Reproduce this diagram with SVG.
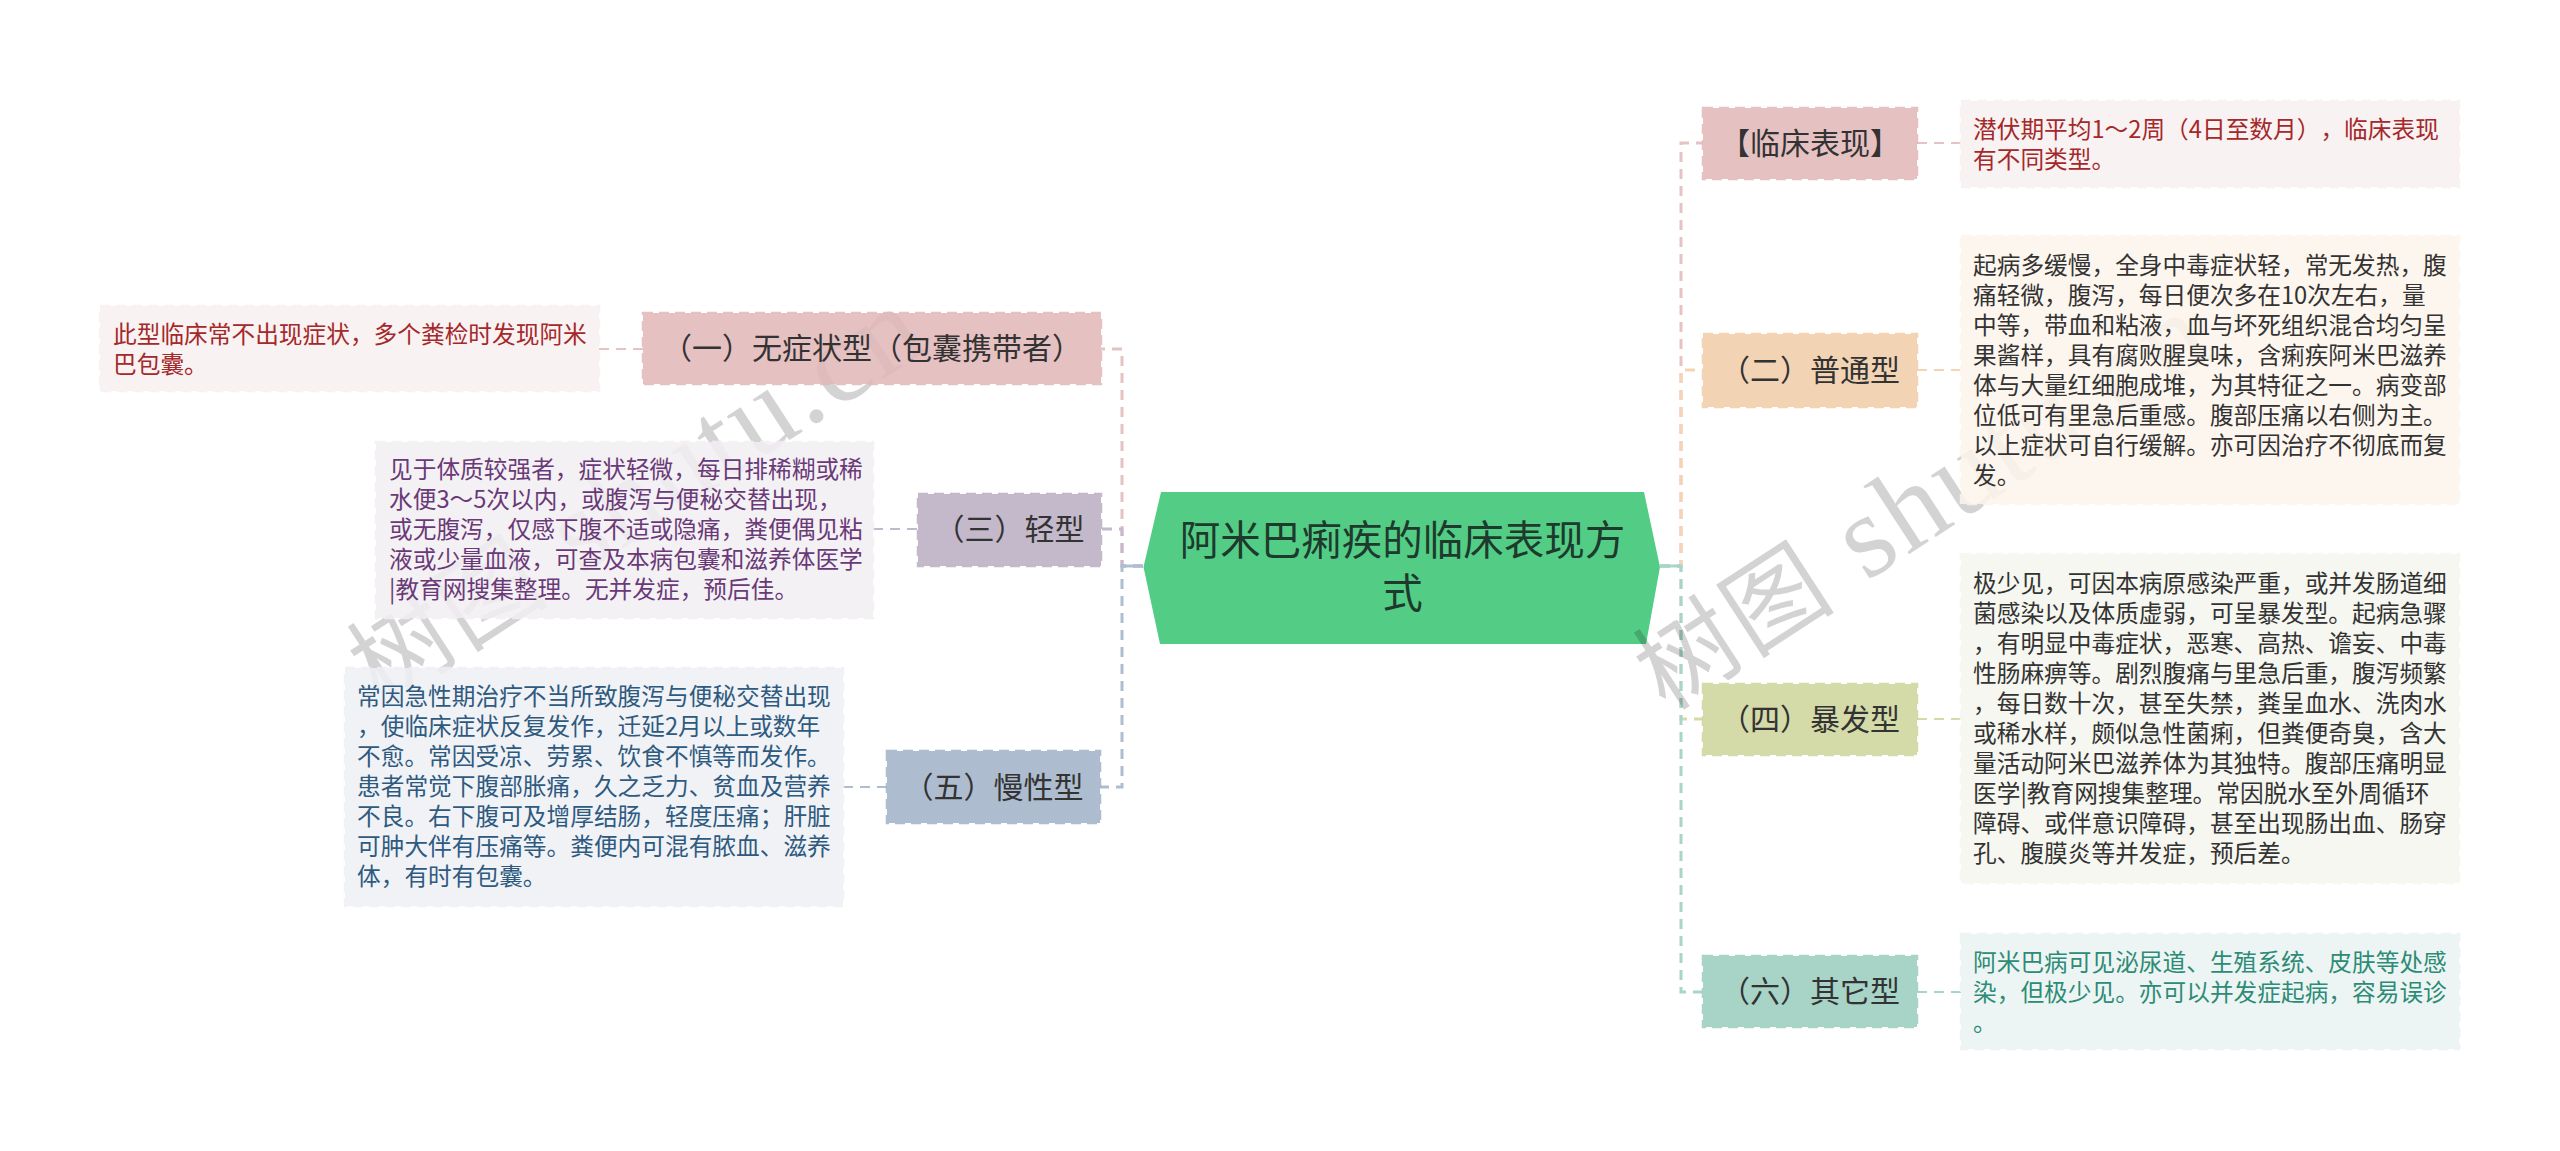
<svg xmlns="http://www.w3.org/2000/svg" width="2560" height="1151" viewBox="0 0 2560 1151">
<style>
text{font-family:"Noto Sans CJK SC","Liberation Sans",sans-serif;text-spacing-trim:space-all}
.n{font-size:30px;fill:#333;text-anchor:middle}
.t{font-size:23.7px}
.c{fill:none;stroke-width:3;stroke-dasharray:10 7}
.l{fill:none;stroke-width:2;stroke-dasharray:10 7}
.b{stroke-width:2.500;stroke-dasharray:10 6;opacity:.86}
.wm{font-family:"Liberation Serif","Noto Sans CJK SC",serif;font-size:118px;letter-spacing:3px;fill:#000;opacity:.17}
.wc{font-size:100px}
</style>
<rect width="2560" height="1151" fill="#fff"/>
<g id="connectors">
<path class="c" stroke="#e7c2c3" d="M1143,566H1122V349H1101"/>
<path class="c" stroke="#c4b9cb" d="M1143,566H1122V529H1101"/>
<path class="c" stroke="#aebdd0" d="M1143,566H1122V787H1100"/>
<path class="c" stroke="#e7c2c3" d="M1660,566H1681V143H1703"/>
<path class="c" stroke="#f3d5b5" d="M1660,566H1681V370H1703"/>
<path class="c" stroke="#d5dba8" d="M1660,566H1681V719H1703"/>
<path class="c" stroke="#a8d5c9" d="M1660,566H1681V992H1703"/>
<path class="l" stroke="#e7c2c3" d="M599,349H643"/>
<path class="l" stroke="#c4b9cb" d="M873,529H918"/>
<path class="l" stroke="#aebdd0" d="M843,787H887"/>
<path class="l" stroke="#e7c2c3" d="M1917,143H1961"/>
<path class="l" stroke="#f3d5b5" d="M1917,370H1961"/>
<path class="l" stroke="#d5dba8" d="M1917,719H1961"/>
<path class="l" stroke="#a8d5c9" d="M1917,992H1961"/>
<path fill="none" stroke="#aebdd0" stroke-width="3" d="M1143,566H1122"/>
<path fill="none" stroke="#a8d5c9" stroke-width="3" d="M1660,566H1681"/>
</g>
<g id="root"><polygon points="1161,492 1644,492 1660,567 1646,644 1160,644 1143.500,567" fill="#53cd85"/>
<text x="1402.500" y="555" font-size="40.500" fill="#1e3a2c" text-anchor="middle">阿米巴痢疾的临床表现方</text>
<text x="1402.500" y="608" font-size="40.500" fill="#1e3a2c" text-anchor="middle">式</text></g>
<text class="wm" transform="translate(380,706) rotate(-33)"><tspan class="wc">树图</tspan> shutu.cn</text>
<text class="wm" transform="translate(1666,712) rotate(-33)"><tspan class="wc">树图</tspan> shutu.cn</text>
<g id="n1"><rect class="b" x="1703" y="108" width="214" height="71" fill="#e3b8b9" stroke="#e3b8b9"/><text class="n" x="1810" y="154">【临床表现】</text></g>
<g id="n1t" fill="#a5282a"><rect class="b" x="1961" y="101" width="498" height="86" fill="#f8f1f1" stroke="#f8f1f1"/>
<text class="t" x="1973" y="138">潜伏期平均1～2周（4日至数月），临床表现</text>
<text class="t" x="1973" y="168">有不同类型。</text></g>
<g id="n2"><rect class="b" x="1703" y="334" width="214" height="73" fill="#f1cea9" stroke="#f1cea9"/><text class="n" x="1810" y="381">（二）普通型</text></g>
<g id="n2t" fill="#333"><rect class="b" x="1961" y="236" width="498" height="268" fill="#fdf5ed" stroke="#fdf5ed"/>
<text class="t" x="1973" y="274">起病多缓慢，全身中毒症状轻，常无发热，腹</text>
<text class="t" x="1973" y="304">痛轻微，腹泻，每日便次多在10次左右，量</text>
<text class="t" x="1973" y="334">中等，带血和粘液，血与坏死组织混合均匀呈</text>
<text class="t" x="1973" y="364">果酱样，具有腐败腥臭味，含痢疾阿米巴滋养</text>
<text class="t" x="1973" y="394">体与大量红细胞成堆，为其特征之一。病变部</text>
<text class="t" x="1973" y="424">位低可有里急后重感。腹部压痛以右侧为主。</text>
<text class="t" x="1973" y="454">以上症状可自行缓解。亦可因治疗不彻底而复</text>
<text class="t" x="1973" y="484">发。</text></g>
<g id="n4"><rect class="b" x="1703" y="684" width="214" height="71" fill="#ced59a" stroke="#ced59a"/><text class="n" x="1810" y="730">（四）暴发型</text></g>
<g id="n4t" fill="#333"><rect class="b" x="1961" y="554" width="498" height="329" fill="#f5f6ee" stroke="#f5f6ee"/>
<text class="t" x="1973" y="592">极少见，可因本病原感染严重，或并发肠道细</text>
<text class="t" x="1973" y="622">菌感染以及体质虚弱，可呈暴发型。起病急骤</text>
<text class="t" x="1973" y="652">，有明显中毒症状，恶寒、高热、谵妄、中毒</text>
<text class="t" x="1973" y="682">性肠麻痹等。剧烈腹痛与里急后重，腹泻频繁</text>
<text class="t" x="1973" y="712">，每日数十次，甚至失禁，粪呈血水、洗肉水</text>
<text class="t" x="1973" y="742">或稀水样，颇似急性菌痢，但粪便奇臭，含大</text>
<text class="t" x="1973" y="772">量活动阿米巴滋养体为其独特。腹部压痛明显</text>
<text class="t" x="1973" y="802">医学|教育网搜集整理。常因脱水至外周循环</text>
<text class="t" x="1973" y="832">障碍、或伴意识障碍，甚至出现肠出血、肠穿</text>
<text class="t" x="1973" y="862">孔、腹膜炎等并发症，预后差。</text></g>
<g id="n6"><rect class="b" x="1703" y="956" width="214" height="71" fill="#9acec0" stroke="#9acec0"/><text class="n" x="1810" y="1002">（六）其它型</text></g>
<g id="n6t" fill="#2e8b76"><rect class="b" x="1961" y="934" width="498" height="115" fill="#ebf4f3" stroke="#ebf4f3"/>
<text class="t" x="1973" y="971">阿米巴病可见泌尿道、生殖系统、皮肤等处感</text>
<text class="t" x="1973" y="1001">染，但极少见。亦可以并发症起病，容易误诊</text>
<text class="t" x="1973" y="1031">。</text></g>
<g id="n0"><rect class="b" x="643" y="313" width="458" height="71" fill="#e3b8b9" stroke="#e3b8b9"/><text class="n" x="872" y="359">（一）无症状型（包囊携带者）</text></g>
<g id="n0t" fill="#a5282a"><rect class="b" x="100" y="306" width="499" height="85" fill="#f8f1f1" stroke="#f8f1f1"/>
<text class="t" x="113" y="343">此型临床常不出现症状，多个粪检时发现阿米</text>
<text class="t" x="113" y="373">巴包囊。</text></g>
<g id="n3"><rect class="b" x="918" y="494" width="183" height="72" fill="#baaec3" stroke="#baaec3"/><text class="n" x="1009.500" y="540">（三）轻型</text></g>
<g id="n3t" fill="#6a3a78"><rect class="b" x="376" y="442" width="497" height="176" fill="#f3eff4" stroke="#f3eff4"/>
<text class="t" x="389" y="478">见于体质较强者，症状轻微，每日排稀糊或稀</text>
<text class="t" x="389" y="508">水便3～5次以内，或腹泻与便秘交替出现，</text>
<text class="t" x="389" y="538">或无腹泻，仅感下腹不适或隐痛，粪便偶见粘</text>
<text class="t" x="389" y="568">液或少量血液，可查及本病包囊和滋养体医学</text>
<text class="t" x="389" y="598">|教育网搜集整理。无并发症，预后佳。</text></g>
<g id="n5"><rect class="b" x="887" y="751" width="213" height="72" fill="#a1b2c8" stroke="#a1b2c8"/><text class="n" x="993.500" y="798">（五）慢性型</text></g>
<g id="n5t" fill="#2f5a80"><rect class="b" x="345" y="668" width="498" height="238" fill="#eef1f5" stroke="#eef1f5"/>
<text class="t" x="357" y="705">常因急性期治疗不当所致腹泻与便秘交替出现</text>
<text class="t" x="357" y="735">，使临床症状反复发作，迁延2月以上或数年</text>
<text class="t" x="357" y="765">不愈。常因受凉、劳累、饮食不慎等而发作。</text>
<text class="t" x="357" y="795">患者常觉下腹部胀痛，久之乏力、贫血及营养</text>
<text class="t" x="357" y="825">不良。右下腹可及增厚结肠，轻度压痛；肝脏</text>
<text class="t" x="357" y="855">可肿大伴有压痛等。粪便内可混有脓血、滋养</text>
<text class="t" x="357" y="885">体，有时有包囊。</text></g>
</svg>
